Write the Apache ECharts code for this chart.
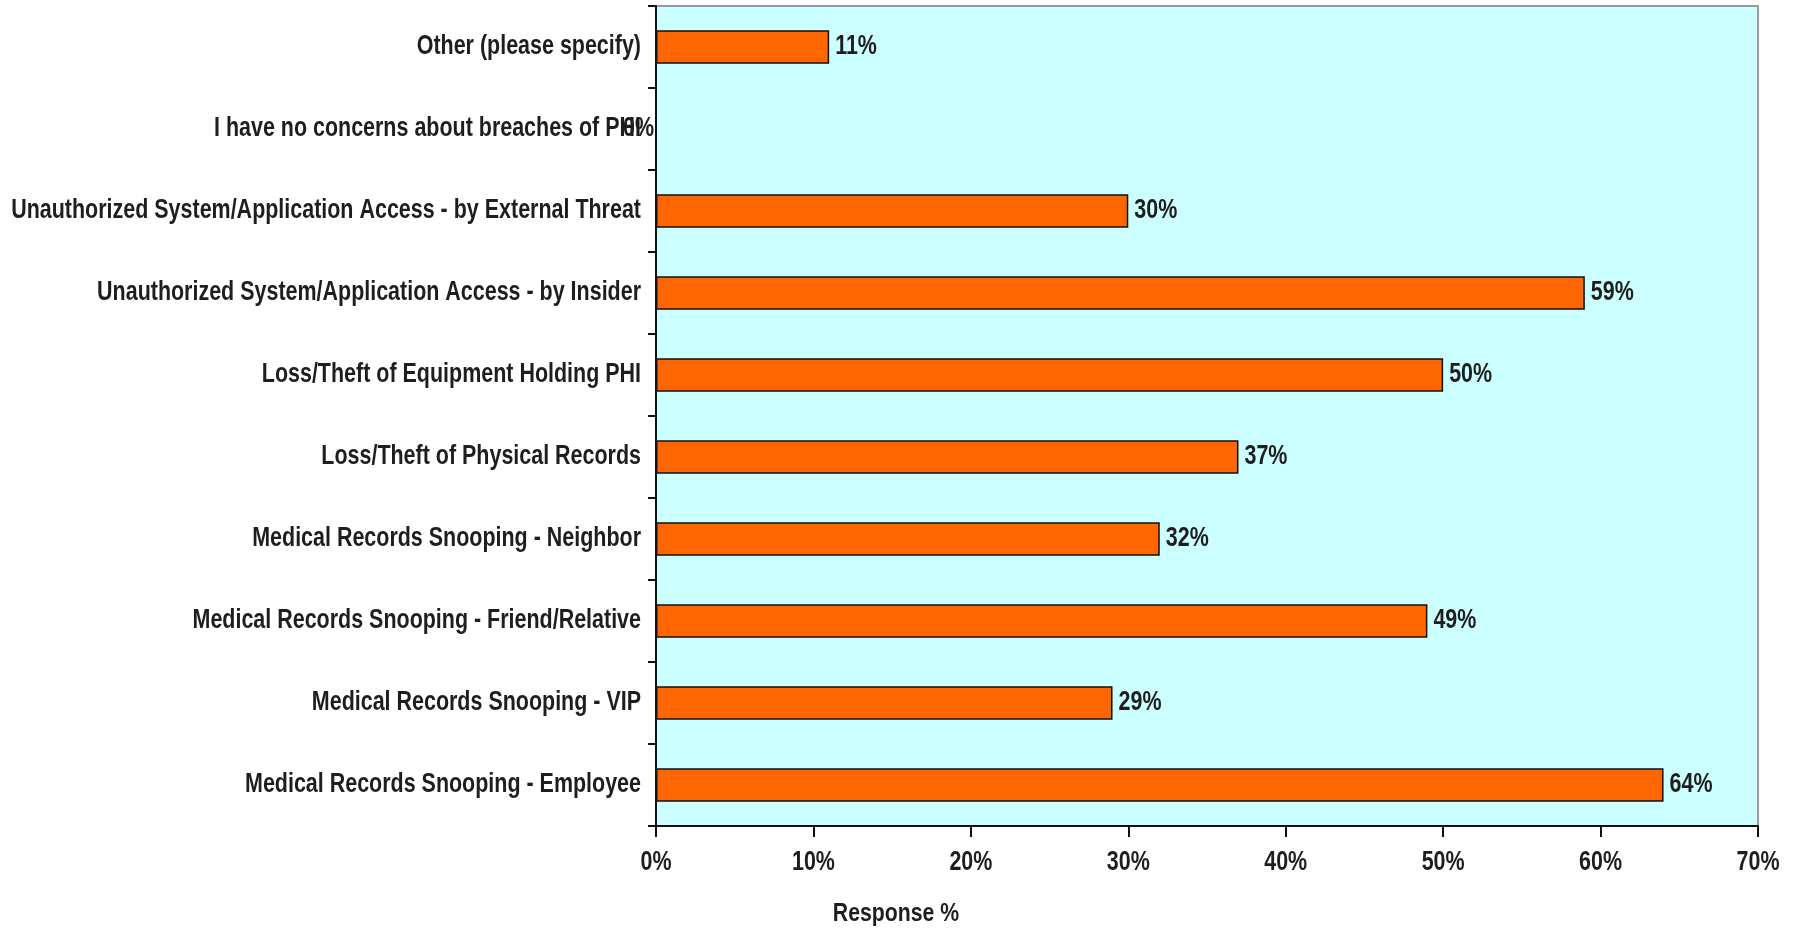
<!DOCTYPE html>
<html>
<head>
<meta charset="utf-8">
<script src="https://cdn.jsdelivr.net/npm/echarts@6/dist/echarts.min.js"></script>
<style>
  html, body { margin: 0; padding: 0; background: #fff; }
  #chart { width: 1797px; height: 930px; }
</style>
</head>
<body>
<div id="chart"></div>
<script>
// Survey categories, listed bottom to top as drawn on the category axis
const categories = [
  'Medical Records Snooping - Employee',
  'Medical Records Snooping - VIP',
  'Medical Records Snooping - Friend/Relative',
  'Medical Records Snooping - Neighbor',
  'Loss/Theft of Physical Records',
  'Loss/Theft of Equipment Holding PHI',
  'Unauthorized System/Application Access - by Insider',
  'Unauthorized System/Application Access - by External Threat',
  'I have no concerns about breaches of PHI',
  'Other (please specify)'
];
// Response share per category, in percent
const responses = [64, 29, 49, 32, 37, 50, 59, 30, 0, 11];
// Value axis ticks (percent)
const axisMin = 0;
const axisMax = 70;
const axisStep = 10;
const xAxisTitle = 'Response %';

// Tall, condensed bold lettering: a regular bold face squeezed horizontally
const FONT = "bold 27px 'Liberation Sans', Arial, sans-serif";
const SQUEEZE = 0.795;
const INK = '#1e1e1e';

const chart = echarts.init(document.getElementById('chart'));

function squeezedText(x, y, text, align, font, squeeze) {
  return {
    type: 'text',
    x: x, y: y,
    scaleX: squeeze || SQUEEZE,
    silent: true,
    style: {
      text: text,
      font: font || FONT,
      fill: INK,
      align: align, verticalAlign: 'middle',
      textAlign: align, textVerticalAlign: 'middle'
    }
  };
}

chart.setOption({
  animation: false,
  backgroundColor: '#ffffff',
  grid: {
    left: 656, right: 39, top: 6, bottom: 104,
    show: true,
    backgroundColor: '#CCFFFF',
    borderColor: '#9a9a9a',
    borderWidth: 2
  },
  xAxis: {
    type: 'value',
    min: axisMin,
    max: axisMax,
    interval: axisStep,
    splitLine: { show: false },
    axisLine: { show: true, onZero: false, lineStyle: { color: '#111', width: 2 } },
    axisTick: { show: true, length: 11, lineStyle: { color: '#111', width: 2 } },
    axisLabel: { show: false }
  },
  yAxis: {
    type: 'category',
    data: categories,
    axisLine: { show: true, lineStyle: { color: '#111', width: 2 } },
    axisTick: { show: true, length: 8, lineStyle: { color: '#111', width: 2 } },
    axisLabel: { show: false }
  },
  series: [{
    type: 'bar',
    data: responses,
    barWidth: '41%',
    itemStyle: { color: '#FF6600', borderColor: '#111', borderWidth: 1.5 }
  }, {
    // value labels at the end of each bar
    type: 'custom',
    data: responses.map((v, i) => [v, i]),
    encode: { x: 0, y: 1 },
    silent: true,
    z: 5,
    renderItem: function (params, api) {
      const v = api.value(0);
      const pt = api.coord([v, api.value(1)]);
      const zero = v === 0;
      return squeezedText(zero ? pt[0] - 2 : pt[0] + 6, pt[1], v + '%', zero ? 'right' : 'left');
    }
  }]
});

// Axis labels placed through the axes' own scales
const graphics = [];
categories.forEach(c => {
  const y = chart.convertToPixel({ yAxisIndex: 0 }, c);
  graphics.push(squeezedText(641, y, c, 'right'));
});
for (let v = axisMin; v <= axisMax; v += axisStep) {
  const x = chart.convertToPixel({ xAxisIndex: 0 }, v);
  graphics.push(squeezedText(x, 863, v + '%', 'center'));
}
graphics.push(squeezedText(896, 914, xAxisTitle, 'center', "bold 25px 'Liberation Sans', Arial, sans-serif", 0.85));
chart.setOption({ graphic: graphics });
</script>
</body>
</html>
